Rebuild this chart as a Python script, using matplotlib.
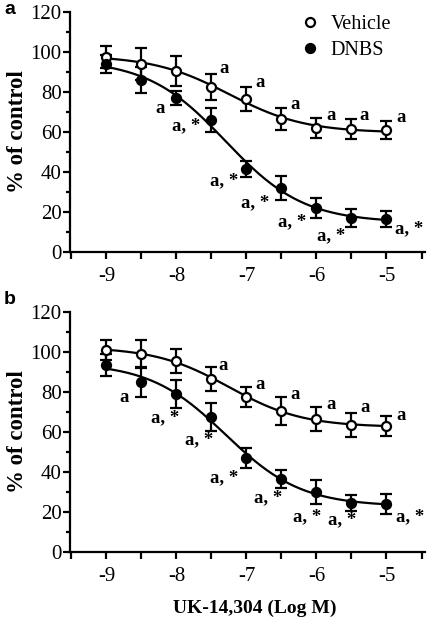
import numpy as np
import matplotlib
matplotlib.use('Agg')
import matplotlib.pyplot as plt
from matplotlib.ticker import MultipleLocator

plt.rc('font', family='Liberation Serif', size=13)

# log concentration of UK-14,304
log_conc = [-9, -8.5, -8, -7.5, -7, -6.5, -6, -5.5, -5]

# panel a
veh_a = [97.5, 94, 90.5, 82.5, 76.5, 66.5, 61.8, 61.5, 61]
veh_a_err = [5.5, 8, 7.5, 6.5, 6, 5.5, 5, 5, 4.5]
dnbs_a = [94, 86, 77, 66, 41.5, 32, 22, 17.2, 16.5]
dnbs_a_err = [4.5, 6.5, 3.5, 6, 4, 6, 5, 4.5, 4]

# panel b
veh_b = [101, 99, 95.5, 86.5, 77.5, 70.5, 66.5, 63.5, 62.8]
veh_b_err = [5, 7, 6, 6, 5, 7, 6, 6, 5]
dnbs_b = [93.5, 85, 79, 67.5, 47, 36.5, 30, 24.5, 24]
dnbs_b_err = [5.5, 7.5, 7, 7, 5, 4.5, 6, 4, 5]

# significance labels (index of point, text)
veh_a_sig = [(3, 'a'), (4, 'a'), (5, 'a'), (6, 'a'), (7, 'a'), (8, 'a')]
dnbs_a_sig = [(2, 'a'), (3, 'a, *'), (4, 'a, *'), (5, 'a, *'), (6, 'a, *'),
              (7, 'a, *'), (8, 'a, *')]
veh_b_sig = [(3, 'a'), (4, 'a'), (5, 'a'), (6, 'a'), (7, 'a'), (8, 'a')]
dnbs_b_sig = [(1, 'a'), (2, 'a, *'), (3, 'a, *'), (4, 'a, *'), (5, 'a, *'),
              (6, 'a, *'), (7, 'a, *'), (8, 'a, *')]

# label offsets in pixels (dx, dy up)
veh_a_off = [(13, 18), (14, 16), (14, 14), (15, 13), (13, 13), (15, 12)]
dnbs_a_off = [(-16, -11), (-25, -6), (-22, -12), (-26, -15), (-24, -14),
              (-20, -18), (23, -10)]
veh_b_off = [(12, 13), (14, 12), (14, 16), (15, 14), (14, 17), (15, 11)]
dnbs_b_off = [(-17, -16), (-11, -24), (-12, -23), (-22, -20), (-13, -19),
              (-9, -25), (-9, -17), (24, -13)]


def hill_fit(x, y):
    # grid search on midpoint/slope, linear lsq for top and bottom
    x = np.asarray(x, float)
    y = np.asarray(y, float)
    best = None
    for c in np.linspace(-9.5, -4.5, 201):
        for h in np.linspace(0.3, 3.0, 109):
            s = 1.0 / (1.0 + 10 ** ((x - c) * h))
            A = np.column_stack([np.ones_like(s), s])
            coef, *_ = np.linalg.lstsq(A, y, rcond=None)
            r = np.sum((A @ coef - y) ** 2)
            if best is None or r < best[0]:
                best = (r, c, h, coef)
    _, c, h, coef = best
    return lambda xx: coef[0] + coef[1] / (1.0 + 10 ** ((xx - c) * h))


def draw_series(ax, y, err, filled):
    f = hill_fit(log_conc, y)
    xx = np.linspace(log_conc[0], log_conc[-1], 300)
    ax.plot(xx, f(xx), '-', color='black', lw=1.6, zorder=2)
    ax.errorbar(log_conc, y, yerr=err, fmt='none', ecolor='black',
                elinewidth=1.6, capsize=4.5, capthick=1.6, zorder=3)
    ax.plot(log_conc, y, 'o', ms=6.5, mec='black', mew=1.6,
            mfc='black' if filled else 'white', zorder=4,
            label='DNBS' if filled else 'Vehicle')


def draw_labels(ax, y, sig, off):
    for (i, txt), (dx, dy) in zip(sig, off):
        ax.annotate(txt, (log_conc[i], y[i]), xytext=(dx, dy),
                    textcoords='offset pixels', ha='center', va='center',
                    fontsize=13.5, fontweight='bold')


def setup_axes(ax):
    ax.set_xlim(-9.52, -4.45)
    ax.set_ylim(0, 120)
    for s in ['top', 'right']:
        ax.spines[s].set_visible(False)
    for s in ['left', 'bottom']:
        ax.spines[s].set_linewidth(1.6)
    ax.xaxis.set_major_locator(MultipleLocator(1))
    ax.xaxis.set_minor_locator(MultipleLocator(0.5))
    ax.yaxis.set_major_locator(MultipleLocator(20))
    ax.yaxis.set_minor_locator(MultipleLocator(10))
    ax.set_xticks([-9, -8, -7, -6, -5])
    ax.set_xticklabels(['-9', '-8', '-7', '-6', '-5'])
    ax.tick_params(axis='both', which='major', length=5, width=1.6,
                   labelsize=15, direction='out')
    ax.tick_params(axis='y', which='minor', length=3, width=1.6)
    ax.tick_params(axis='x', which='minor', length=5, width=1.6)
    ax.tick_params(axis='x', pad=6)
    ax.tick_params(axis='y', pad=1)
    ax.set_ylabel('% of control', fontweight='bold', fontsize=16.5,
                  labelpad=2)


fig = plt.figure(figsize=(4.28, 6.21), dpi=100)
ax1 = fig.add_axes([0.1636, 0.5942, 0.8294, 0.3865])
ax2 = fig.add_axes([0.1636, 0.1111, 0.8294, 0.3865])

setup_axes(ax1)
draw_series(ax1, veh_a, veh_a_err, False)
draw_series(ax1, dnbs_a, dnbs_a_err, True)
draw_labels(ax1, veh_a, veh_a_sig, veh_a_off)
draw_labels(ax1, dnbs_a, dnbs_a_sig, dnbs_a_off)
ax1.legend(loc='upper right', bbox_to_anchor=(0.955, 1.065), frameon=False,
           fontsize=14.5, handletextpad=0.5, labelspacing=0.35,
           handlelength=1.0)

setup_axes(ax2)
draw_series(ax2, veh_b, veh_b_err, False)
draw_series(ax2, dnbs_b, dnbs_b_err, True)
draw_labels(ax2, veh_b, veh_b_sig, veh_b_off)
draw_labels(ax2, dnbs_b, dnbs_b_sig, dnbs_b_off)

fig.text(255 / 428, 1 - 608 / 621, 'UK-14,304 (Log M)', ha='center',
         va='center', fontweight='bold', fontsize=14)
fig.text(4 / 428, 1 - 9 / 621, 'a', family='Liberation Sans',
         fontweight='bold', fontsize=14, va='center')
fig.text(4 / 428, 1 - 300 / 621, 'b', family='Liberation Sans',
         fontweight='bold', fontsize=14, va='center')

fig.savefig('out.png', dpi=100)
